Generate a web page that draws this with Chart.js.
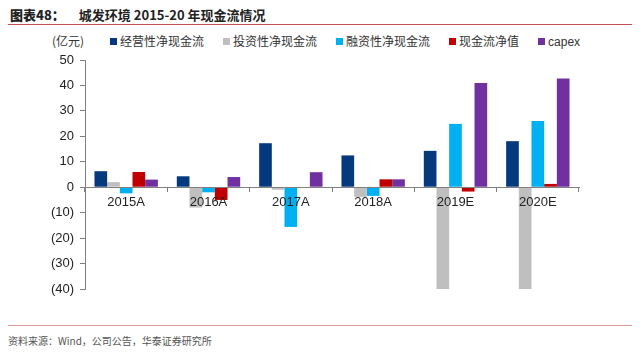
<!DOCTYPE html>
<html>
<head>
<meta charset="utf-8">
<script src="https://cdn.jsdelivr.net/npm/chart.js@4"></script>
<style>
body{margin:0;width:640px;height:354px;background:#fff;position:relative;overflow:hidden;font-family:"Liberation Sans","Noto Sans CJK SC",sans-serif}
#title{position:absolute;left:10px;top:5px;font-size:13px;font-weight:bold;color:#222;font-family:"Noto Sans CJK SC",sans-serif}
#title b{margin-right:14px}
#topline{position:absolute;left:8px;top:24px;width:624px;height:1px;background:#c0504d}
#unit{position:absolute;left:52px;top:32px;font-size:12px;color:#333;font-family:"Noto Sans CJK SC",sans-serif}
#legend{position:absolute;left:110px;top:32px;font-size:12px;color:#333;font-family:"Liberation Sans","Noto Sans CJK SC",sans-serif;white-space:nowrap}
#legend span{display:inline-block;margin-right:19px}
#legend i{display:inline-block;width:7px;height:7px;margin-right:3px;vertical-align:1px}
#botline{position:absolute;left:8px;top:325px;width:624px;height:1px;background:#e49a9a}
#source{position:absolute;left:8px;top:333px;font-size:10px;color:#555;font-family:"Noto Sans CJK SC",sans-serif}
canvas{position:absolute;left:0;top:0}
</style>
</head>
<body>
<div id="title"><b>图表48：</b>城发环境 2015-20 年现金流情况</div>
<div id="topline"></div>
<div id="unit">(亿元)</div>
<div id="legend"></div>
<div id="botline"></div>
<div id="source">资料来源：Wind，公司公告，华泰证券研究所</div>
<canvas id="c" width="640" height="354"></canvas>
<script>
const years = ["2015A","2016A","2017A","2018A","2019E","2020E"]
const seriesNames = ["经营性净现金流","投资性净现金流","融资性净现金流","现金流净值","capex"]
const operating = [6.3, 4.3, 17.3, 12.5, 14.3, 18.1]
const investing = [2.0, -8.0, -1.0, -3.8, -40, -40]
const financing = [-2.4, -2.0, -15.6, -3.4, 24.9, 26.0]
const netCash = [6.0, -5.0, 0.2, 3.1, -1.7, 1.3]
const capex = [3.0, 4.0, 5.9, 3.1, 41.0, 42.7]
const colors = ["#043a7d","#bfbfbf","#00b0f0","#c00000","#7030a0"]

const allSeries = [operating, investing, financing, netCash, capex]

const legend = document.getElementById("legend")
seriesNames.forEach((n,i)=>{
const s = document.createElement("span")
s.innerHTML = '<i style="background:'+colors[i]+'"></i>'+n
legend.appendChild(s)
})

function fmt(v){
return v < 0 ? "(" + Math.abs(v) + ")" : String(v)
}

new Chart(document.getElementById("c"),{
type:"bar",
data:{
labels:years,
datasets:allSeries.map((d,i)=>({
label:seriesNames[i],
data:d,
backgroundColor:colors[i],
barPercentage:1,
categoryPercentage:0.77
}))
},
options:{
responsive:false,
animation:false,
layout:{padding:{left:40,top:60,right:61,bottom:65}},
plugins:{legend:{display:false},tooltip:{enabled:false}},
scales:{
x:{
position:{y:0},
grid:{display:true,drawOnChartArea:false,offset:true,color:"#808080",tickLength:4},
border:{color:"#808080",z:1},
ticks:{z:1,color:"#222",font:{family:"Liberation Sans",size:13},padding:3}
},
y:{
min:-40,max:50,
afterFit:s=>{s.width=45},
grid:{drawOnChartArea:false,color:"#808080",tickLength:5},
border:{color:"#808080"},
ticks:{stepSize:10,color:"#222",font:{family:"Liberation Sans",size:13},padding:6,callback:v=>fmt(v)}
}
}
}
})
</script>
</body>
</html>
